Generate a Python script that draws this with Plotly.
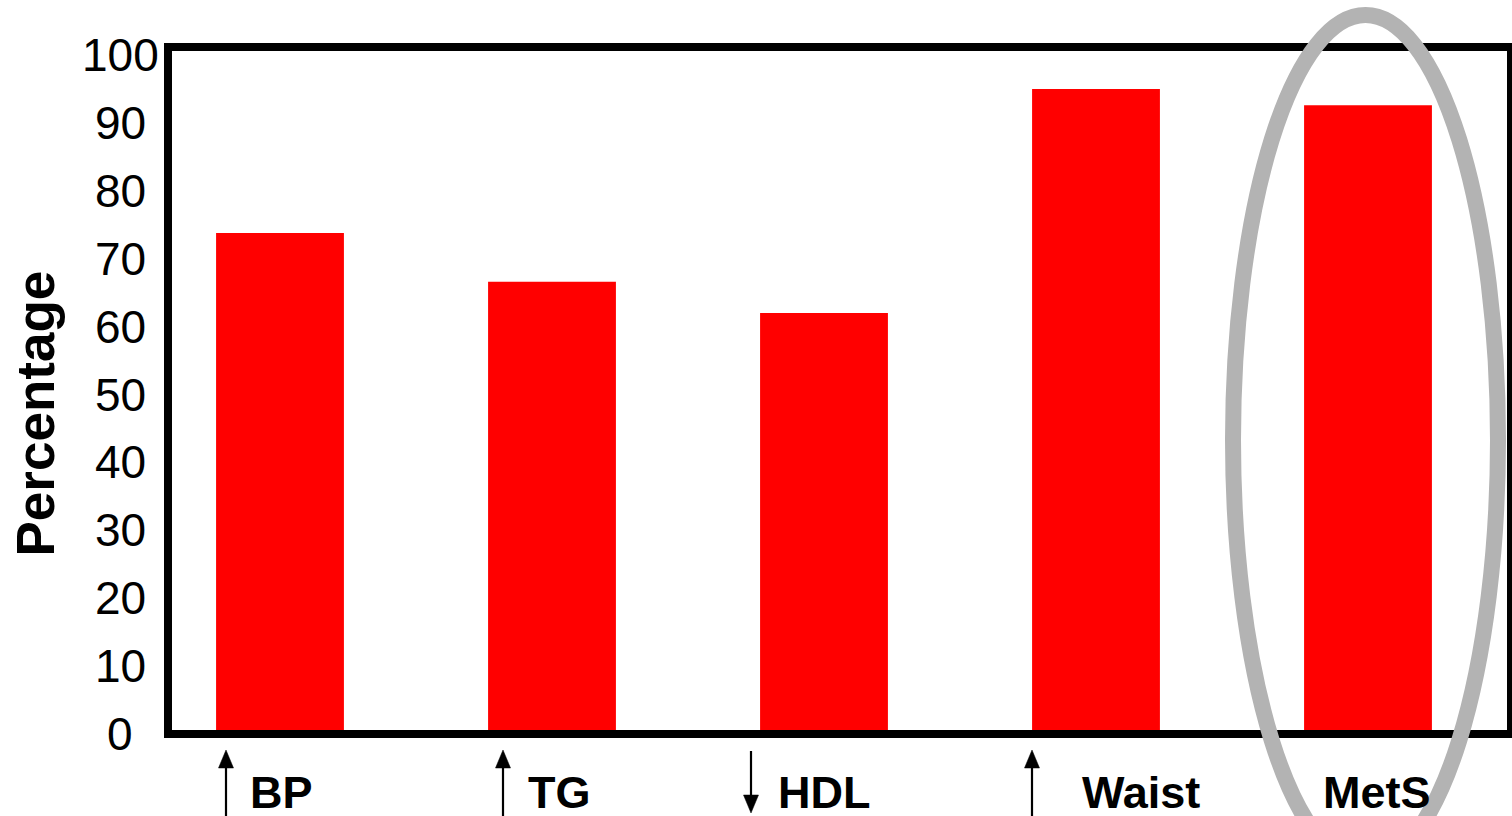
import plotly.graph_objects as go

# ---- data ----
categories = ["BP", "TG", "HDL", "Waist", "MetS"]
percentages = [73.2, 66.0, 61.4, 94.4, 92.0]
arrow_dirs = ["up", "up", "down", "up", None]
y_tick_values = [0, 10, 20, 30, 40, 50, 60, 70, 80, 90, 100]
y_title = "Percentage"

# ---- styling / layout (pixels) ----
W, H = 1512, 816
PL, PR, PT, PB = 172, 1507, 51, 730          # plot area edges (px)
label_xshift = [1, 7, 0, 45, 9]               # category label nudges (px)
arrow_xoff = [-54, -49, -73, -64, 0]          # arrow offsets from bar centre (px)
FONT = "Liberation Sans, Arial, sans-serif"
BAR_RED = "#FF0000"
RING_GREY = "#B3B3B3"


def px_x(px):
    return (px - PL) / (PR - PL)


def px_y(py):
    return (PB - py) / (PB - PT)


fig = go.Figure()
fig.add_trace(go.Bar(
    x=categories, y=percentages, width=0.47,
    marker=dict(color=BAR_RED, line=dict(width=0)),
    hoverinfo="x+y", showlegend=False,
))

# category x range so bar centres fall at 280 + 272*i px
step = 272.0
x_lo = (PL - 280) / step
x_hi = (PR - 280) / step

annotations = []
# y tick labels (centre aligned as in the reference)
for v in y_tick_values:
    annotations.append(dict(
        x=px_x(120), xref="paper", y=v, yref="y",
        text=str(v), showarrow=False, xanchor="center", yanchor="middle",
        yshift=-4, font=dict(family=FONT, size=46, color="black"),
    ))
# y title
annotations.append(dict(
    x=px_x(35), xref="paper", y=px_y(413.5), yref="paper",
    text="<b>%s</b>" % y_title, textangle=-90, showarrow=False,
    xanchor="center", yanchor="middle",
    font=dict(family=FONT, size=53, color="black"),
))
# category labels
for c, dx in zip(categories, label_xshift):
    annotations.append(dict(
        x=c, xref="x", y=0, yref="paper", yshift=-62, xshift=dx,
        text="<b>%s</b>" % c, showarrow=False,
        xanchor="center", yanchor="middle",
        font=dict(family=FONT, size=45, color="black"),
    ))

shapes = []
# arrows (line + triangular head) drawn in pixel offsets
for c, d, off in zip(categories, arrow_dirs, arrow_xoff):
    if d is None:
        continue
    if d == "up":
        line_y0, line_y1 = -110, -36
        head = "M%g,-20 L%g,-38 L%g,-38 Z" % (off, off - 7.5, off + 7.5)
    else:
        line_y0, line_y1 = -21, -67
        head = "M%g,-83 L%g,-65 L%g,-65 Z" % (off, off - 7.5, off + 7.5)
    shapes.append(dict(
        type="line", xref="x", xsizemode="pixel", xanchor=c, x0=off, x1=off,
        yref="paper", ysizemode="pixel", yanchor=0, y0=line_y0, y1=line_y1,
        line=dict(color="black", width=2.2), layer="above",
    ))
    shapes.append(dict(
        type="path", xref="x", xsizemode="pixel", xanchor=c,
        yref="paper", ysizemode="pixel", yanchor=0, path=head,
        fillcolor="black", line=dict(color="black", width=0.5), layer="above",
    ))
# grey highlight ellipse around MetS
shapes.append(dict(
    type="circle", xref="paper", yref="paper",
    x0=px_x(1233), x1=px_x(1498), y0=px_y(865), y1=px_y(15),
    line=dict(color=RING_GREY, width=16), fillcolor="rgba(0,0,0,0)",
    layer="above",
))

fig.update_layout(
    width=W, height=H,
    margin=dict(l=PL, r=W - PR, t=PT, b=H - PB, pad=0, autoexpand=False),
    paper_bgcolor="white", plot_bgcolor="white",
    xaxis=dict(type="category", range=[x_lo, x_hi], showgrid=False,
               showticklabels=False, ticks="", zeroline=False,
               showline=True, linewidth=8, linecolor="black", mirror=True,
               fixedrange=True, automargin=False),
    yaxis=dict(range=[0, 100], showgrid=False, showticklabels=False,
               ticks="", zeroline=False, showline=True, linewidth=8,
               linecolor="black", mirror=True, fixedrange=True,
               automargin=False),
    annotations=annotations, shapes=shapes,
    font=dict(family=FONT),
    showlegend=False,
)

fig.write_html(
    "out.html",
    config={"displayModeBar": False},
    post_script="document.body.style.margin='0';"
                "document.body.style.overflow='hidden';",
)
